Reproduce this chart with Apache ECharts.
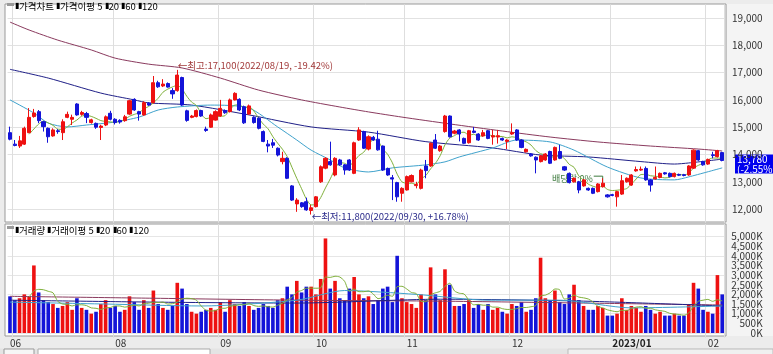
<!DOCTYPE html>
<html><head><meta charset="utf-8">
<script src="https://cdn.jsdelivr.net/npm/echarts@6/dist/echarts.min.js"></script>
<style>html,body{margin:0;padding:0;background:#ececec;}#c{width:773px;height:354px;}</style>
</head><body><div id="c"></div>
<script>
// ---- data ----
const opens = [14800,14380,14310,14380,14800,15390,15570,15200,14960,14680,14870,14800,15360,15290,15850,15470,15500,15170,15140,14990,
15080,15510,15290,15250,15240,15480,16020,15570,15450,15880,15900,16630,16510,16600,16340,16340,16820,15600,15360,15390,
15610,14930,15000,15260,15410,15610,15570,16000,16020,15750,15480,15360,15330,14840,14380,14430,14230,13740,13860,12850,
12190,12230,12270,11950,12090,13000,13500,13740,13250,13800,13620,13800,13310,14530,14840,14200,14630,14560,14310,13490,
13150,12970,12580,12700,13000,12860,12760,13580,13580,14530,14140,14840,15410,14780,14900,14590,14430,14860,14750,14680,
14870,14640,14640,14590,14480,14750,14900,14530,14100,14020,13900,13740,13800,14110,13800,14110,13550,13310,13000,13000,
12850,12760,12760,12640,12820,12520,12530,12450,12550,13000,12880,13400,13430,13490,13070,13110,13160,13330,13310,13190,
13270,13260,13250,13500,14140,13740,13650,13990,13920,14070];
const closes = [14560,14330,14500,14960,15360,15520,15240,15020,14650,14900,14840,15200,15470,15360,15450,15540,15360,15270,15000,15040,
15380,15290,15170,15190,15380,15970,15630,15480,15900,15810,16630,16480,16580,16470,16220,16910,15810,15250,15410,15610,
15410,14880,15450,15570,15690,15530,16000,16240,15630,15160,15780,15170,14960,14480,14310,14340,13980,13860,13130,12330,
12330,12090,11970,12050,12450,13550,13860,13620,13860,13620,13430,13430,14430,14900,14230,14650,14530,14170,13430,13250,
13100,12450,12760,13190,13230,12900,13430,13410,14410,14230,14310,15410,14650,14860,14750,14410,14870,14810,14530,14800,
14590,14690,14690,14530,14530,14800,14530,14260,14190,13950,13800,13950,14020,13680,14260,13860,13430,12970,13130,12700,
13070,12700,12580,12920,12950,12450,12500,12640,13040,13130,13250,13450,13460,13070,12880,13160,13310,13290,13190,13310,
13240,13230,13580,14160,13800,13620,13820,13960,14140,13780];
const highs = [15020,14530,14680,15020,15700,15670,15630,15230,14990,14960,14930,15290,15570,15460,15880,15600,15560,15310,15170,15090,
15430,15600,15330,15290,15450,16000,16060,15600,15950,15920,16875,16700,16760,16640,16430,17100,16850,15640,15450,15650,
15640,15020,15500,15620,16000,15650,16050,16280,16060,15790,15830,15400,15360,14880,14530,14570,14260,14100,13900,12880,
12400,12260,12420,12150,12480,13600,13900,14470,13900,13840,13650,13830,14470,15000,14870,14700,14680,14870,14330,13520,
13250,13000,12800,13230,13270,13000,13480,13800,14440,14750,14350,15450,15430,14900,14930,14620,14900,15010,14780,14900,
14900,14900,14900,14620,14560,15140,14930,14560,14220,14050,13930,13980,14050,14140,14290,14350,13580,13340,13160,13030,
13100,12790,12790,12950,13130,12550,12560,12670,13250,13160,13280,13560,13560,13560,13100,13560,13340,13360,13340,13340,
13300,13290,13610,14190,14170,13770,13850,14100,14170,14100];
const lows = [14520,14300,14240,14350,14780,15350,15150,14840,14430,14650,14760,14530,15330,15080,15420,15420,15150,15130,14940,14530,
15040,15250,15100,15130,15200,15450,15600,15240,15420,15780,15870,16440,16470,16450,16040,16300,15780,15200,15330,15360,
15380,14830,14980,15240,15380,15490,15540,15980,15590,15120,15450,15130,14920,14450,14080,14240,13930,13640,13100,12300,
11900,12050,11940,11800,12060,12960,13460,13590,13200,13590,13260,13400,13280,14500,14200,14150,14500,14140,13400,13220,
12330,12270,12270,12680,12980,12760,12720,13130,13550,14200,14100,14800,14620,14740,14480,14380,14400,14780,14500,14650,
14560,14360,14400,14500,14200,14720,14500,14230,14070,13920,13310,13710,13770,13650,13770,13830,13400,12940,12970,12580,
12820,12670,12550,12610,12790,12420,12470,12090,12520,12970,12850,13370,13400,13040,12640,13080,13130,13260,13160,13160,
13210,13200,13220,13470,13770,13590,13620,13860,13890,13750];
// volume in thousand shares (K)
const volumes = [1900,1700,1800,2000,1900,3500,2100,1700,1600,1500,1300,1400,1600,1200,1800,1300,1200,1000,1100,1500,
1700,1300,1400,1100,1200,1900,1600,1200,1700,1300,2200,1500,1300,1200,1400,2600,2300,1500,1100,1000,
1100,1200,1300,1200,1600,1100,1700,1500,1400,1600,1400,1200,1300,1500,1400,1300,1700,1800,2400,2000,
2700,2100,2400,2400,2000,2800,4900,2300,2700,1800,1700,2300,2900,2000,1800,1900,1500,1700,2300,2400,
1600,4000,1800,1600,1500,1300,2000,1700,3400,2000,1700,3300,2500,1400,1400,1500,1700,1300,1500,1200,
1500,1200,1300,1100,1000,1500,1400,1600,1100,1200,1800,3900,1800,1700,2200,1600,1500,2000,2500,1700,
1400,1200,1200,1400,1300,900,900,1000,1800,1200,1400,1300,1100,1400,1200,1000,1100,900,900,1000,
900,900,1500,2600,2300,1200,1100,1000,3000,2000];

const monthStarts = [0, 22, 44, 64, 83, 105, 126, 146];
const monthLabels = ['06', '08', '09', '10', '11', '12', '2023/01', '02'];
const gridStarts = [1, 22, 44, 64, 83, 105, 126, 146];
const priceTicks = [12000, 13000, 14000, 15000, 16000, 17000, 18000, 19000];
const volTicks = [0, 500, 1000, 1500, 2000, 2500, 3000, 3500, 4000, 4500, 5000];

// moving-average lines: [candle index, value]
const ma20Knots = [[0,16000],[5,15520],[8,15150],[12,15010],[16,15080],[22,15190],[27,15370],[31,15630],[35,15740],[42,15810],
[50,15700],[56,15010],[60,14530],[63,14160],[67,13800],[70,13510],[75,13360],[80,13510],[87,13620],[91,13730],[94,13910],
[101,14240],[106,14530],[113,14460],[118,14160],[125,13540],[132,13140],[139,13070],[142,13180],[149,13510]];
const ma60Knots = [[0,17120],[8,16800],[19,16250],[26,16000],[29,15890],[38,15810],[50,15450],[63,15010],[75,14820],[87,14470],
[101,14240],[111,13980],[121,13910],[132,13740],[139,13650],[142,13690],[149,13830]];
const ma120Knots = [[0,18850],[4,18560],[10,18190],[17,17830],[22,17530],[29,17310],[36,17170],[44,16800],[52,16360],[61,16000],
[69,15740],[75,15560],[82,15370],[92,15120],[103,14860],[113,14640],[123,14460],[134,14310],[144,14200],[149,14130]];
const vma20Knots = [[0,1600],[20,1500],[40,1400],[60,1700],[70,2200],[85,2000],[100,1700],[115,1700],[130,1300],[149,1400]];
const vma60Knots = [[0,1700],[30,1600],[60,1550],[90,1750],[120,1650],[149,1400]];
const vma120Knots = [[0,1900],[30,1800],[60,1700],[90,1650],[120,1550],[149,1450]];

const exDivIndex = 124;
const lastChangePct = '-2.55%';

// ---- build ----
const N = closes.length;
const cats = closes.map((_, i) => i);
const UP = '#ee1111', DOWN = '#1414d8';
const C5 = '#7fb03a', C20 = '#3fa2cc', C60 = '#202088', C120 = '#8a3a5e';
const NARROW = '"Liberation Sans Narrow","Noto Sans CJK KR",sans-serif';
const KR = '"Noto Sans CJK KR","Liberation Sans Narrow",sans-serif';

function sparse(knots) { const a = new Array(N).fill(null); knots.forEach(([i, v]) => { a[i] = v; }); return a; }
function mavg(src, n) { return src.map((_, i) => i < n - 1 ? null : src.slice(i - n + 1, i + 1).reduce((s, x) => s + x, 0) / n); }
const candles = cats.map(i => [opens[i], closes[i], lows[i], highs[i]]);
const volData = cats.map(i => ({ value: volumes[i], itemStyle: { color: closes[i] >= opens[i] ? UP : DOWN } }));

let hiIdx = 0, loIdx = 0;
for (let i = 0; i < N; i++) { if (highs[i] > highs[hiIdx]) hiIdx = i; if (lows[i] < lows[loIdx]) loIdx = i; }
const last = closes[N - 1];
const fmt = v => v.toLocaleString('en-US');
const dateOf = { 35: '2022/08/19', 63: '2022/09/30' };
const pct = (a, b) => { const p = (a / b - 1) * 100; return (p >= 0 ? '+' : '') + p.toFixed(2) + '%'; };

function line(name, data, color, xi, yi) {
  return { name, type: 'line', data, xAxisIndex: xi, yAxisIndex: yi, symbol: 'none', connectNulls: true, smooth: 0.25,
    lineStyle: { width: 1, color }, itemStyle: { color }, silent: true, z: 3 };
}

const chart = echarts.init(document.getElementById('c'), null, { renderer: 'canvas' });
const catAxis = (gi, showLabel) => ({
  type: 'category', gridIndex: gi, data: cats, boundaryGap: true,
  axisLine: { show: false }, axisTick: { show: false },
  splitLine: { show: true, interval: (idx) => gridStarts.includes(idx), lineStyle: { color: '#dedede', width: 1 } },
  axisLabel: showLabel ? {
    show: true, interval: (idx) => monthStarts.includes(idx), align: 'left', margin: 0,
    formatter: (v, idx) => { const k = monthStarts.indexOf(Number(v)); return k < 0 ? '' : (k === 6 ? '{b|' + monthLabels[k] + '}' : monthLabels[k]); },
    color: '#333', fontSize: 10, fontFamily: NARROW,
    rich: { b: { fontWeight: 'bold', fontSize: 10, fontFamily: NARROW, color: '#222' } }
  } : { show: false }
});

chart.setOption({
  animation: false,
  backgroundColor: '#ececec',
  grid: [
    { left: 7.6, width: 717, top: 4.35, height: 218.4, outerBoundsMode: 'none' },
    { left: 7.6, width: 717, top: 224, height: 113.8, outerBoundsMode: 'none' }
  ],
  xAxis: [catAxis(0, false), catAxis(1, true)],
  yAxis: [
    { type: 'value', gridIndex: 0, position: 'right', min: 11500, max: 19500, interval: 500, scale: true,
      axisLine: { show: false }, axisTick: { show: false },
      splitLine: { show: true, lineStyle: { color: ['rgba(0,0,0,0)', '#e2e2e2'] } },
      axisLabel: { margin: 38, align: 'right', color: '#333', fontSize: 10, fontFamily: NARROW,
        formatter: v => priceTicks.includes(v) ? fmt(v) : '' } },
    { type: 'value', gridIndex: 1, position: 'right', min: -250, max: 5648, interval: 250,
      axisLine: { show: false }, axisTick: { show: false },
      splitLine: { show: true, lineStyle: { color: ['rgba(0,0,0,0)', '#e6e6e6', 'rgba(0,0,0,0)', 'rgba(0,0,0,0)'] } },
      axisLabel: { margin: 38, align: 'right', color: '#333', fontSize: 10, fontFamily: NARROW, lineHeight: 9,
        formatter: v => volTicks.includes(v) ? fmt(v) + 'K' : '' } }
  ],
  series: [
    { name: 'price', type: 'candlestick', xAxisIndex: 0, yAxisIndex: 0, data: candles, barWidth: 3.6, z: 4,
      itemStyle: { color: UP, color0: DOWN, borderColor: UP, borderColor0: DOWN, borderWidth: 1 },
      markPoint: { symbol: 'circle', symbolSize: 1, itemStyle: { color: 'rgba(0,0,0,0)' }, silent: true, animation: false,
        data: [
          { coord: [hiIdx, highs[hiIdx]], label: { show: true, position: 'right', distance: 0, offset: [0, -4],
              formatter: '←최고:' + fmt(highs[hiIdx]) + '(' + dateOf[hiIdx] + ', ' + pct(last, highs[hiIdx]) + ')',
              color: '#a23a3a', fontSize: 9.5, fontFamily: NARROW } },
          { coord: [loIdx, lows[loIdx]], label: { show: true, position: 'right', distance: 0, offset: [0, 2],
              formatter: '←최저:' + fmt(lows[loIdx]) + '(' + dateOf[loIdx] + ', ' + pct(last, lows[loIdx]) + ')',
              color: '#2a2a8a', fontSize: 9.5, fontFamily: NARROW } }
        ] } },
    line('ma120', sparse(ma120Knots), C120, 0, 0),
    line('ma60', sparse(ma60Knots), C60, 0, 0),
    line('ma20', sparse(ma20Knots), C20, 0, 0),
    line('ma5', mavg(closes, 5), C5, 0, 0),
    { name: 'vol', type: 'bar', xAxisIndex: 1, yAxisIndex: 1, data: volData, barWidth: 3.6, z: 2 },
    line('vma120', sparse(vma120Knots), C120, 1, 1),
    line('vma60', sparse(vma60Knots), C60, 1, 1),
    line('vma20', sparse(vma20Knots), C20, 1, 1),
    line('vma5', mavg(volumes, 5), C5, 1, 1)
  ]
});

// decorations (frames, legends, price tag, toolbar)
const pLast = chart.convertToPixel({ gridIndex: 0 }, [N - 1, last]);
const pDiv = chart.convertToPixel({ gridIndex: 0 }, [exDivIndex, Math.max(opens[exDivIndex], closes[exDivIndex])]);
const legend = (y, first, firstColor) => ({
  type: 'text', left: 15, top: y, z: 20,
  style: { text: '{m0|▮}{a|' + first + '} {m1|▮}{g|' + (firstColor === UP ? '거래이평' : '가격이평') + ' 5} {m2|▮}{c|20} {m3|▮}{n|60} {m4|▮}{r|120}',
    fontSize: 9.5, fontFamily: KR,
    rich: { m0: { color: firstColor, fontSize: 8 }, a: { color: firstColor === UP ? '#d02020' : '#222', fontSize: 9.5, fontFamily: KR },
      m1: { color: C5, fontSize: 8 }, g: { color: '#6a9a30', fontSize: 9.5, fontFamily: KR },
      m2: { color: C20, fontSize: 8 }, c: { color: C20, fontSize: 9.5, fontFamily: NARROW },
      m3: { color: C60, fontSize: 8 }, n: { color: C60, fontSize: 9.5, fontFamily: NARROW },
      m4: { color: C120, fontSize: 8 }, r: { color: C120, fontSize: 9.5, fontFamily: NARROW } } }
});
chart.setOption({
  graphic: [
    { type: 'rect', shape: { x: 5, y: 4, width: 721, height: 218 }, style: { fill: '#fff', stroke: '#9a9a9a', lineWidth: 1 }, z: -10 },
    { type: 'rect', shape: { x: 5, y: 224, width: 721, height: 112 }, style: { fill: '#fff', stroke: '#9a9a9a', lineWidth: 1 }, z: -10 },
    { type: 'rect', shape: { x: 727, y: 4, width: 46, height: 332 }, style: { fill: '#f4f4f4' }, z: -10 },
    { type: 'rect', shape: { x: 7, y: 3, width: 7, height: 3 }, style: { fill: '#9a9a9a' }, z: 20 },
    { type: 'rect', shape: { x: 7, y: 226, width: 7, height: 3 }, style: { fill: '#9a9a9a' }, z: 20 },
    legend(1.5, '가격차트', '#222'),
    legend(225.5, '거래량', UP),
    { type: 'group', z: 30, children: [
      { type: 'rect', shape: { x: 735, y: pLast[1] - 6, width: 38, height: 19 }, style: { fill: '#0000ee' } },
      { type: 'text', x: 737, y: pLast[1] - 6, style: { text: fmt(last) + '\n(' + lastChangePct + ')', fill: '#fff', fontSize: 10, lineHeight: 9.5, fontFamily: NARROW } }
    ] },
    { type: 'group', z: 30, children: [
      { type: 'text', x: pDiv[0] - 10, y: pDiv[1] - 5, style: { text: '배당락:0%', fill: '#3d7a3d', fontSize: 9, fontFamily: KR, align: 'right', verticalAlign: 'middle' } },
      { type: 'polyline', shape: { points: [[pDiv[0] - 9, pDiv[1] - 7], [pDiv[0], pDiv[1] - 7], [pDiv[0], pDiv[1] - 1]] }, style: { stroke: '#3d7a3d', lineWidth: 1, fill: null } }
    ] },
    { type: 'rect', shape: { x: 0, y: 348.5, width: 773, height: 6 }, style: { fill: '#e4e4e4' }, z: 10 },
    { type: 'rect', shape: { x: 38, y: 349, width: 172, height: 6 }, style: { fill: '#fff', stroke: '#aaa' }, z: 11 },
    { type: 'rect', shape: { x: 4, y: 349, width: 30, height: 6 }, style: { fill: '#f6f6f6', stroke: '#999' }, z: 11 },
    { type: 'rect', shape: { x: 568, y: 349, width: 205, height: 6 }, style: { fill: '#f0f0f0', stroke: '#bbb' }, z: 11 }
  ]
});
</script></body></html>
